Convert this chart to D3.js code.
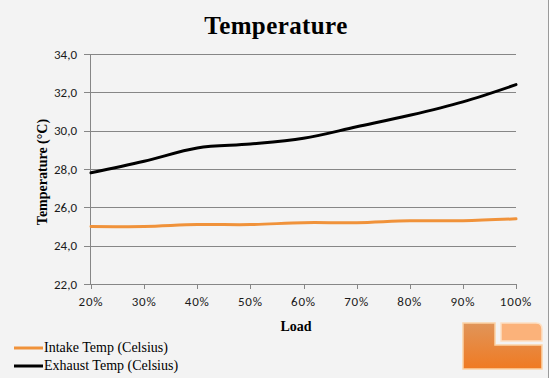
<!DOCTYPE html>
<html><head><meta charset="utf-8">
<script src="https://cdn.jsdelivr.net/npm/d3@7"></script>
<style>html,body{margin:0;padding:0;background:#f3f3f3;}svg{display:block;}</style>
</head><body>
<script>
const categories = ["20%","30%","40%","50%","60%","70%","80%","90%","100%"];
const intakeTemp = [25.0,25.0,25.1,25.1,25.2,25.2,25.3,25.3,25.4];
const exhaustTemp = [27.8,28.4,29.1,29.3,29.6,30.2,30.8,31.5,32.4];
const yTicks = [22,24,26,28,30,32,34];
const seriesNames = ["Intake Temp (Celsius)","Exhaust Temp (Celsius)"];
const seriesColors = ["#f0923a","#000000"];

const W=549,H=378;
const svg=d3.select("body").append("svg").attr("width",W).attr("height",H);
svg.append("rect").attr("width",W).attr("height",H).attr("fill","#f3f3f3");
svg.append("line").attr("x1",548.5).attr("x2",548.5).attr("y1",0).attr("y2",H).attr("stroke","#9a9a9a");

const x=d3.scalePoint().domain(categories).range([91,516]);
const y=d3.scaleLinear().domain([22,34]).range([284,54]);

svg.append("g").selectAll("line").data(yTicks).join("line")
  .attr("x1",84).attr("x2",516).attr("y1",d=>Math.round(y(d))+0.5).attr("y2",d=>Math.round(y(d))+0.5)
  .attr("stroke","#868686").attr("stroke-width",1);
svg.append("line").attr("x1",90.5).attr("x2",90.5).attr("y1",54).attr("y2",284).attr("stroke","#868686");
svg.append("g").selectAll("line").data(categories).join("line")
  .attr("x1",d=>Math.round(x(d))+0.5).attr("x2",d=>Math.round(x(d))+0.5).attr("y1",284).attr("y2",289)
  .attr("stroke","#868686");

const tickFont="Carlito, 'Liberation Sans', Arial, sans-serif";
svg.append("g").selectAll("text").data(yTicks).join("text")
  .attr("x",77).attr("y",d=>y(d)+4.5).attr("text-anchor","end")
  .attr("font-family",tickFont).attr("font-size",13).attr("fill","#1a1a1a")
  .text(d=>d3.format(".1f")(d).replace(".",","));
svg.append("g").selectAll("text").data(categories).join("text")
  .attr("x",d=>x(d)).attr("y",306).attr("text-anchor","middle")
  .attr("font-family",tickFont).attr("font-size",13).attr("fill","#1a1a1a")
  .attr("letter-spacing",0.8)
  .text(d=>d);

const serif="'Liberation Serif','DejaVu Serif',serif";
svg.append("text").attr("x",276).attr("y",34).attr("text-anchor","middle")
  .attr("font-family",serif).attr("font-weight","bold").attr("font-size",25).attr("fill","#000")
  .attr("letter-spacing",0.4)
  .text("Temperature");
svg.append("text").attr("transform","translate(47,172) rotate(-90)").attr("text-anchor","middle")
  .attr("font-family",serif).attr("font-weight","bold").attr("font-size",14).attr("fill","#000")
  .text("Temperature (°C)");
svg.append("text").attr("x",296).attr("y",331).attr("text-anchor","middle")
  .attr("font-family",serif).attr("font-weight","bold").attr("font-size",14).attr("fill","#000")
  .text("Load");

const line=d3.line().x((d,i)=>x(categories[i])).y(d=>y(d)).curve(d3.curveCatmullRom.alpha(0.5));
[intakeTemp,exhaustTemp].forEach((s,k)=>{
  svg.append("path").attr("d",line(s)).attr("fill","none").attr("stroke",seriesColors[k])
    .attr("stroke-width",3).attr("stroke-linecap","round");
});

const logo=svg.append("g");
const grad=svg.append("defs").append("linearGradient").attr("id","lg").attr("x1",0).attr("x2",0).attr("y1",0).attr("y2",1);
grad.append("stop").attr("offset",0).attr("stop-color","#e0955a");
grad.append("stop").attr("offset",1).attr("stop-color","#f07a22");
logo.append("path").attr("d","M463,323 H495 V345 H542 V369 H463 Z").attr("fill","url(#lg)").attr("stroke","#fbd3a8").attr("stroke-width",1.5);
logo.append("path").attr("d","M501,323 H536 Q542,323 542,329 V341 H501 Z").attr("fill","#fbb27a").attr("stroke","#fde0c4").attr("stroke-width",1.5);

seriesNames.forEach((n,k)=>{
  const yy=348+k*18;
  svg.append("line").attr("x1",14).attr("x2",43).attr("y1",yy).attr("y2",yy).attr("stroke",seriesColors[k]).attr("stroke-width",3);
  svg.append("text").attr("x",44).attr("y",yy+4).attr("font-family",serif).attr("font-size",14).attr("fill","#000").text(n);
});
</script>
</body></html>
